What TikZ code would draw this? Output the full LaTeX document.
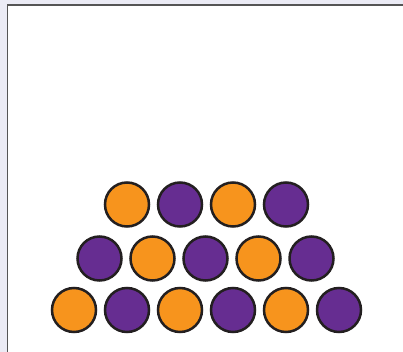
\documentclass[tikz,border=0pt]{standalone}
\definecolor{bgl}{HTML}{EBEBF5}
\definecolor{frameg}{HTML}{555555}
\definecolor{orng}{HTML}{F7941D}
\definecolor{purp}{HTML}{662D91}
\definecolor{edge}{HTML}{231F20}
\tikzset{
  ball/.style={circle, draw=edge, line width=2.5pt, minimum size=44pt, inner sep=0pt},
  ob/.style={ball, fill=orng},
  pb/.style={ball, fill=purp}
}
\begin{document}
\begin{tikzpicture}[x=1pt,y=-1pt]
\useasboundingbox (0,0) rectangle (403,352);
\fill[bgl] (0,0) rectangle (403,352);
\fill[white] (7.5,5) rectangle (403,352);
\draw[frameg, line width=1.6pt] (7.5,352) -- (7.5,5) -- (403,5);
% bottom row
\node[ob] (b1) at (74,310) {};
\node[pb] (b2) at (127,310) {};
\node[ob] (b3) at (180,310) {};
\node[pb] (b4) at (233,310) {};
\node[ob] (b5) at (286,310) {};
\node[pb] (b6) at (339,310) {};
% middle row
\node[pb] (m1) at (99.5,258.5) {};
\node[ob] (m2) at (152.5,258.5) {};
\node[pb] (m3) at (205.5,258.5) {};
\node[ob] (m4) at (258.5,258.5) {};
\node[pb] (m5) at (311.5,258.5) {};
% top row
\node[ob] (t1) at (127,204.5) {};
\node[pb] (t2) at (180,204.5) {};
\node[ob] (t3) at (233,204.5) {};
\node[pb] (t4) at (286,204.5) {};
\end{tikzpicture}
\end{document}
